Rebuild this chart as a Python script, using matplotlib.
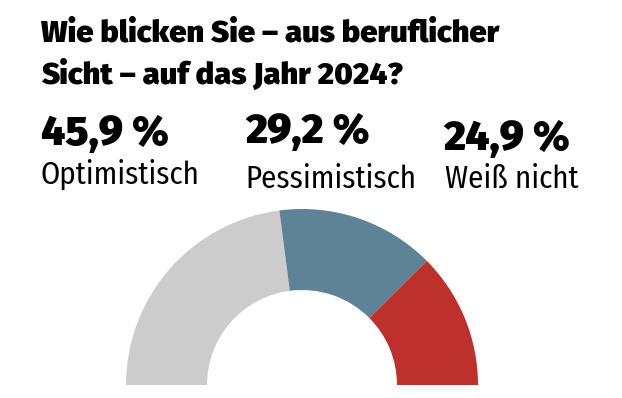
import matplotlib
matplotlib.use("Agg")
import matplotlib.pyplot as plt

# data
labels = ["Optimistisch", "Pessimistisch", "Weiß nicht"]
shares = [45.9, 29.2, 24.9]
colors = ["#cccccc", "#5e8296", "#bd302b"]
title_lines = ["Wie blicken Sie – aus beruflicher", "Sicht – auf das Jahr 2024?"]

W, H = 622, 398
fig = plt.figure(figsize=(W / 100, H / 100), dpi=100)

def put(x, y, s, **kw):
    # x, y in pixels from top-left, y = baseline
    fig.text(x / W, 1 - y / H, s, va="baseline", ha="left", **kw)

# title
put(41, 42, title_lines[0], family="Fira Sans", weight=900, fontsize=22.3)
put(41, 84, title_lines[1], family="Fira Sans", weight=900, fontsize=22.3)

# numbers and labels
num_x = [41, 245, 443]
num_y = [145, 143, 150]
lab_x = [41, 245, 445]
lab_y = [184, 188, 188]
for i in range(3):
    put(num_x[i], num_y[i], f"{shares[i]:.1f}".replace(".", ",") + " %",
        family="Fira Sans", weight=900, fontsize=30)
    put(lab_x[i], lab_y[i], labels[i], family="Fira Sans Condensed", fontsize=22.2)

# half donut
cx, cy, r_out, r_in = 302, 385, 176, 95
ax = fig.add_axes([(cx - r_out) / W, (H - cy - r_out) / H, 2 * r_out / W, 2 * r_out / H])
wedges, _ = ax.pie(shares + [sum(shares)], colors=colors + ["none"], startangle=180,
                   counterclock=False, radius=1,
                   wedgeprops=dict(width=(r_out - r_in) / r_out, linewidth=0))
ax.set_xlim(-1, 1)
ax.set_ylim(-1, 1)
ax.set_aspect("equal")
ax.axis("off")

fig.savefig("out.png", dpi=100)
